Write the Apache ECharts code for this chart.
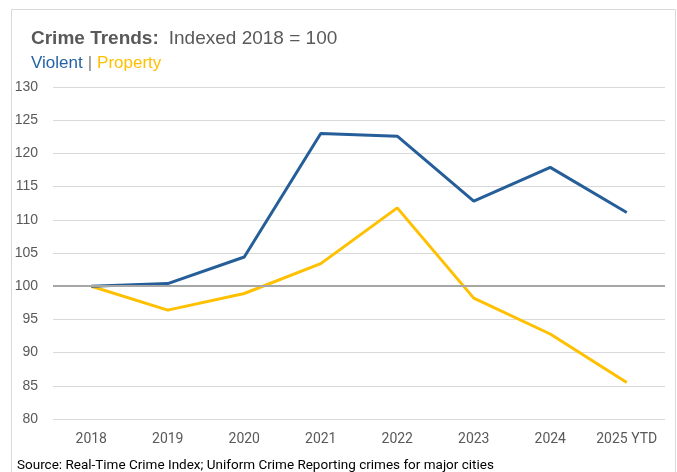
<!DOCTYPE html>
<html>
<head>
<meta charset="utf-8">
<script src="https://cdn.jsdelivr.net/npm/echarts@6/dist/echarts.min.js"></script>
<style>
html,body{margin:0;padding:0;background:#fff;}
#chart{width:677px;height:472px;}
</style>
</head>
<body>
<div id="chart"></div>
<script>
const categories = ['2018','2019','2020','2021','2022','2023','2024','2025 YTD'];
const violent = [100, 100.4, 104.4, 123.0, 122.6, 112.8, 117.9, 111.1];
const property = [100, 96.4, 98.9, 103.4, 111.8, 98.2, 92.8, 85.5];
const baseline = 100;
const yTicks = { min: 80, max: 130, interval: 5 };

const chart = echarts.init(document.getElementById('chart'), null, {renderer: 'canvas'});
const font = 'Liberation Sans, Arial, sans-serif';
const narrow = 'Roboto, Arial, sans-serif';
chart.setOption({
  animation: false,
  backgroundColor: '#fff',
  graphic: [{
    type: 'rect', shape: {x: 11.5, y: 9.5, width: 664, height: 470},
    style: {fill: 'none', stroke: '#d9d9d9', lineWidth: 1}, silent: true
  }],
  title: [{
    left: 26, top: 24,
    text: '{b|Crime Trends:}  {n|Indexed 2018 = 100}',
    textStyle: {
      fontWeight: 'normal',
      rich: {
        b: {fontFamily: font, fontSize: 19, fontWeight: 'bold', color: '#595959'},
        n: {fontFamily: font, fontSize: 19, fontWeight: 'normal', color: '#595959'}
      }
    }
  }, {
    left: 26, top: 49,
    text: '{v|Violent} {s||} {p|Property}',
    textStyle: {
      fontWeight: 'normal',
      rich: {
        v: {fontFamily: font, fontSize: 17, fontWeight: 'normal', color: '#2563a6'},
        s: {fontFamily: font, fontSize: 17, fontWeight: 'normal', color: '#7f7f7f'},
        p: {fontFamily: font, fontSize: 17, fontWeight: 'normal', color: '#ffc000'}
      }
    }
  }, {
    left: 12, top: 454,
    text: 'Source: Real-Time Crime Index; Uniform Crime Reporting crimes for major cities',
    textStyle: {fontFamily: narrow, fontSize: 13.5, fontWeight: 'normal', color: '#000'}
  }],
  grid: {left: 53, right: 12, top: 87, bottom: 53},
  xAxis: {
    type: 'category', data: categories, boundaryGap: true,
    axisLine: {show: false}, axisTick: {show: false},
    axisLabel: {fontFamily: narrow, fontSize: 14, color: '#595959', margin: 13, interval: 0}
  },
  yAxis: {
    type: 'value', min: yTicks.min, max: yTicks.max, interval: yTicks.interval,
    axisLine: {show: false}, axisTick: {show: false},
    axisLabel: {fontFamily: font, fontSize: 14, color: '#595959', margin: 15},
    splitLine: {lineStyle: {color: '#d9d9d9', width: 1}}
  },
  series: [{
    name: 'Baseline', type: 'line', data: [], silent: true,
    markLine: {
      symbol: 'none', silent: true, label: {show: false},
      lineStyle: {color: '#a6a6a6', width: 2, type: 'solid'},
      data: [{yAxis: baseline}]
    }
  }, {
    name: 'Property', type: 'line', data: property, symbol: 'none',
    lineStyle: {color: '#ffc000', width: 3}, z: 3
  }, {
    name: 'Violent', type: 'line', data: violent, symbol: 'none',
    lineStyle: {color: '#255e99', width: 3}, z: 4
  }]
});
</script>
</body>
</html>
